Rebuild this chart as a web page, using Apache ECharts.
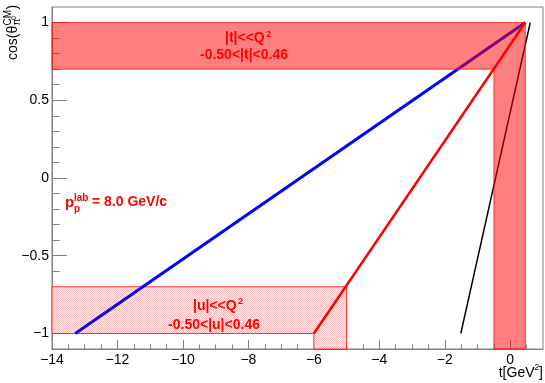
<!DOCTYPE html>
<html><head><meta charset="utf-8">
<script src="https://cdn.jsdelivr.net/npm/echarts@6/dist/echarts.min.js"></script>
<style>html,body{margin:0;padding:0;background:#fff}#c{width:545px;height:383px}</style>
</head><body><div id="c"></div>
<script>
// ---- data ----
const xTickVals = [-14, -12, -10, -8, -6, -4, -2, 0];
const xMinorVals = [-13.5, -13, -12.5, -11.5, -11, -10.5, -9.5, -9, -8.5, -7.5, -7, -6.5, -5.5, -5, -4.5, -3.5, -3, -2.5, -1.5, -1, -0.5, 0.5];
const yTickVals = [-1, -0.5, 0, 0.5, 1];
const yMinorVals = [-0.9, -0.8, -0.7, -0.6, -0.4, -0.3, -0.2, -0.1, 0.1, 0.2, 0.3, 0.4, 0.6, 0.7, 0.8, 0.9];

// kinematic lines: t [GeV^2] vs cos(theta)
const blueT = [-13.29, 0.46];
const blueCos = [-1.0, 1.0];
const redT = [-6.0, 0.46];
const redCos = [-1.0, 1.0];
const blackT = [-1.51, 0.61];
const blackCos = [-1.0, 1.0];

// |t|<<Q^2 band (horizontal) and its vertical part
const tBandT = [-14, 0.46];
const tBandCos = [0.70, 1.00];
const vBandT = [-0.50, 0.46];
const vBandCos = [-1.10, 0.70];
// |u|<<Q^2 band (hatched) and its tail below cos=-1
const uBandT = [-14, -5.0];
const uBandCos = [-1.00, -0.70];
const uTailT = [-6.0, -5.0];
const uTailCos = [-1.10, -1.00];

const FONT = "'Liberation Sans', Arial, Helvetica, sans-serif";
const AX = '#808080';

// hatch pattern
const pc = document.createElement('canvas');
pc.width = 2; pc.height = 2;
const g = pc.getContext('2d');
g.fillStyle = '#fff0f0'; g.fillRect(0, 0, 2, 2);
g.fillStyle = '#ffbdbd'; g.fillRect(0, 0, 1, 1); g.fillRect(1, 1, 1, 1);

const lBandPts = [
  [tBandT[0], tBandCos[0]], [tBandT[0], tBandCos[1]], [tBandT[1], tBandCos[1]],
  [vBandT[1], vBandCos[0]], [vBandT[0], vBandCos[0]], [vBandT[0], vBandCos[1]]
];
const uBandPts = [
  [uBandT[0], uBandCos[1]], [uBandT[1], uBandCos[1]], [uTailT[1], uTailCos[0]],
  [uTailT[0], uTailCos[0]], [uTailT[0], uBandCos[0]], [uBandT[0], uBandCos[0]]
];

const fmt = v => String(v).replace('-', '\u2212');

function txt(s, x, y, size, o) {
  o = o || {};
  return {type: 'text', x: x, y: y, z: 100,
    style: {text: s, fill: o.color || '#000', font: (o.bold ? 'bold ' : '') + size + 'px ' + FONT,
      align: o.align || 'left', verticalAlign: 'middle'}};
}
const RED = '#ff0000';

const chart = echarts.init(document.getElementById('c'));
chart.setOption({
  animation: false,
  grid: {left: 52, right: 2, top: 7, bottom: 34, show: true, borderColor: AX, borderWidth: 1, backgroundColor: 'transparent'},
  xAxis: [
    {type: 'value', min: -14, max: 1, position: 'bottom', splitLine: {show: false},
     axisLine: {show: true, onZero: false, lineStyle: {color: AX}},
     axisTick: {show: true, inside: true, length: 9, customValues: xTickVals, lineStyle: {color: AX}},
     axisLabel: {customValues: xTickVals, formatter: fmt, margin: 4, color: '#000', fontSize: 14, fontFamily: FONT}},
    {type: 'value', min: -14, max: 1, position: 'bottom', splitLine: {show: false},
     axisLine: {show: false, onZero: false},
     axisTick: {show: true, inside: true, length: 4.5, customValues: xMinorVals, lineStyle: {color: AX}},
     axisLabel: {show: false}}
  ],
  yAxis: [
    {type: 'value', min: -1.1, max: 1.1, position: 'left', splitLine: {show: false},
     axisLine: {show: true, onZero: false, lineStyle: {color: AX}},
     axisTick: {show: true, inside: true, length: 15, customValues: yTickVals, lineStyle: {color: AX}},
     axisLabel: {customValues: yTickVals, formatter: fmt, margin: 3, color: '#000', fontSize: 14, fontFamily: FONT}},
    {type: 'value', min: -1.1, max: 1.1, position: 'left', splitLine: {show: false},
     axisLine: {show: false, onZero: false},
     axisTick: {show: true, inside: true, length: 7.5, customValues: yMinorVals, lineStyle: {color: AX}},
     axisLabel: {show: false}}
  ],
  series: [
    {type: 'custom', xAxisIndex: 0, yAxisIndex: 0, z: 1, silent: true,
     data: [uBandPts[0]],
     renderItem: (p, api) => ({type: 'polygon', shape: {points: uBandPts.map(q => api.coord(q))},
       style: {fill: {image: pc, repeat: 'repeat'}, stroke: 'rgba(255,0,0,0.8)', lineWidth: 1}})},
    {type: 'line', xAxisIndex: 0, yAxisIndex: 0, z: 2, symbol: 'none', silent: true,
     data: blueT.map((t, i) => [t, blueCos[i]]), lineStyle: {color: '#0000ff', width: 3}},
    {type: 'line', xAxisIndex: 0, yAxisIndex: 0, z: 2, symbol: 'none', silent: true,
     data: redT.map((t, i) => [t, redCos[i]]), lineStyle: {color: '#ff0000', width: 2.5}},
    {type: 'line', xAxisIndex: 0, yAxisIndex: 0, z: 2, symbol: 'none', silent: true,
     data: blackT.map((t, i) => [t, blackCos[i]]), lineStyle: {color: '#000000', width: 1.5}},
    {type: 'custom', xAxisIndex: 0, yAxisIndex: 0, z: 3, silent: true,
     data: [lBandPts[0]],
     renderItem: (p, api) => ({type: 'polygon', shape: {points: lBandPts.map(q => api.coord(q))},
       style: {fill: 'rgba(255,0,0,0.5)', stroke: 'rgba(255,0,0,0.7)', lineWidth: 1}})}
  ],
  graphic: [
    txt('|t|<<Q', 225, 38, 14, {bold: true, color: RED}),
    txt('2', 266, 35, 9, {bold: true, color: RED}),
    txt('-0.50<|t|<0.46', 244, 55, 14, {bold: true, color: RED, align: 'center'}),
    txt('|u|<<Q', 193, 306, 14, {bold: true, color: RED}),
    txt('2', 238, 301.5, 9, {bold: true, color: RED}),
    txt('-0.50<|u|<0.46', 214, 325, 14, {bold: true, color: RED, align: 'center'}),
    txt('p', 65, 202.5, 15, {bold: true, color: RED}),
    txt('lab', 74, 198, 10, {bold: true, color: RED}),
    txt('p', 74, 209, 10, {bold: true, color: RED}),
    txt('= 8.0 GeV/c', 92, 202.5, 14, {bold: true, color: RED}),
    txt(']', 543, 373, 14, {align: 'right'}),
    txt('2', 539.2, 368, 9, {align: 'right'}),
    txt('t[GeV', 534.5, 373, 14, {align: 'right'}),
    {type: 'group', x: 13, y: 60, rotation: Math.PI / 2, z: 100, children: [
      txt('cos(\u03b8', 0, 0, 14),
      txt('CM', 34.5, -5, 10),
      txt('\u03c0', 34.5, 4.5, 10),
      txt('0', 40, 1.5, 7),
      txt(')', 50.5, 0, 14)
    ]}
  ]
});
</script>
</body></html>
